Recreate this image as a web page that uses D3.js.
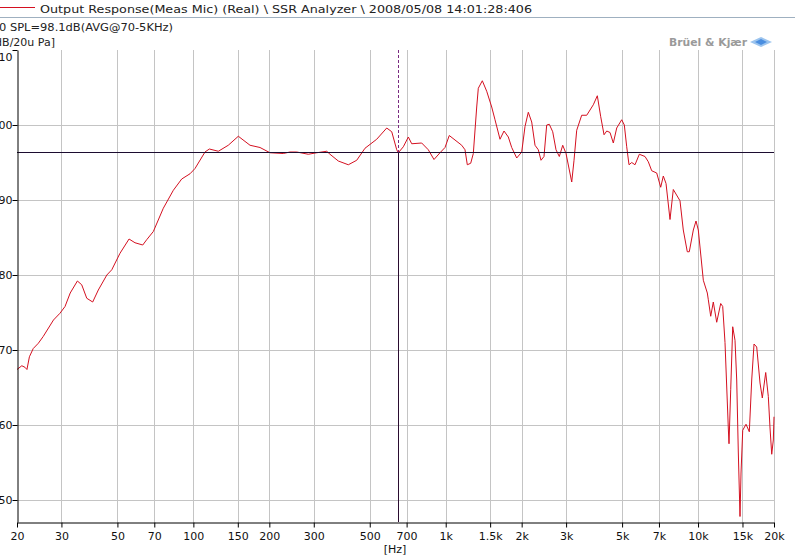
<!DOCTYPE html>
<html><head><meta charset="utf-8">
<script src="https://cdn.jsdelivr.net/npm/d3@7"></script>
<style>
html,body{margin:0;padding:0;background:#fff;overflow:hidden;}
svg{display:block;}
text{font-family:"DejaVu Sans",Verdana,sans-serif;}
</style></head>
<body>
<svg id="chart" width="795" height="560"></svg>
<script>
// ---- data ----
const freqs = [20,20.9,21.5,21.9,22.4,23.2,24.3,25.4,27.9,29.6,31.0,32.5,34.7,36.1,37.8,39.9,42.0,45.4,47.5,51.2,55.6,58.7,63.0,65.3,69.4,76.0,83.3,89.9,97.0,101.5,111.2,115.7,125.6,137.5,150.7,167.7,183.7,201.2,227.2,241.5,256.7,285.4,308.2,337.7,347.9,375.3,411.2,444.0,478.8,532.8,583.9,611.1,639.6,649,679.3,711,733.4,803.2,853.1,898.7,949.2,993.6,1033,1088.6,1157.3,1192.6,1217.9,1256.3,1286.5,1327,1346.5,1396.6,1453.8,1521.7,1568.2,1641.4,1702.4,1770.6,1826.4,1911.7,2000.7,2061.9,2124.9,2191.9,2258.9,2327.9,2386,2452,2513,2573,2655,2736,2820,2909,2998,3158,3225,3305,3459,3621,3732,3846,3989,4115,4241,4347,4479,4616,4761,4983,5103,5216,5326,5460,5627,5852,6164,6352,6552,6858,7113,7284,7466,7743,7979,8482,8741,9066,9233,9578,9816,10024,10493,10883,10983,11226,11495,11858,12298,12525,12790,13181,13265,13473,13721,14012,14231,14441,14667,14802,15034,15493,15967,16320,16666,17081,17604,17977,18544,18989,19286,19588,19876,20000];
const spl = [67.4,67.9,67.7,67.4,69.1,70.2,70.9,71.8,74.0,74.9,75.8,77.6,79.2,78.7,76.9,76.4,78.0,80.0,80.7,82.9,84.8,84.3,84.0,84.7,85.8,88.9,91.3,92.8,93.5,94.2,96.4,96.8,96.5,97.3,98.5,97.3,97.0,96.3,96.2,96.4,96.4,96.1,96.3,96.5,96.1,95.2,94.7,95.3,96.9,98.1,99.6,99.1,96.7,96.3,97.1,98.4,97.5,97.6,96.7,95.4,96.3,97.0,98.6,98.0,97.3,96.7,94.7,94.9,96.2,102.4,104.9,105.9,104.5,102.4,100.7,98.1,99.2,98.4,97.0,95.6,96.4,99.8,101.7,100.4,97.3,96.7,95.3,95.8,100.0,100.1,99.1,96.7,95.8,97.3,96.2,92.4,95.3,99.3,101.3,101.3,102.0,102.7,103.9,101.1,98.7,99.2,99.0,97.6,99.6,100.7,100.0,97.1,94.7,95.0,94.7,96.1,95.8,95.1,93.9,93.6,91.7,93.2,92.2,87.4,91.4,89.9,86.0,83.1,83.1,86.0,87.2,86.0,79.3,77.6,76.7,74.5,76.4,73.7,76.2,75.8,71.0,59.6,57.5,64.7,73.1,71.3,66.0,56.4,47.8,53.6,59.3,60.1,59.1,66.0,70.8,70.4,65.6,63.6,67.0,63.8,59.6,56.1,58.0,61.1];
const xTicks = [20,30,50,70,100,150,200,300,500,700,1000,1500,2000,3000,5000,7000,10000,15000,20000];
const xTickLabels = ["20","30","50","70","100","150","200","300","500","700","1k","1.5k","2k","3k","5k","7k","10k","15k","20k"];
const yTicks = [110,100,90,80,70,60,50];
const yTickLabels = ["110","100","90","80","70","60","50"];
const refLevel = 96.4;
const cursorFreq = 649;
const headerTitle = "Output Response(Meas Mic) (Real) \\ SSR Analyzer \\ 2008/05/08 14:01:28:406";
const headerInfo = "0 SPL=98.1dB(AVG@70-5KHz)";
const yUnit = "[dB/20u Pa]";
const xUnit = "[Hz]";
const brand = "Brüel & Kjær";

// ---- layout ----
const L = 17, R = 774, T = 50, B = 522;
const svg = d3.select("#chart");
const x = d3.scaleLog().domain([20,20000]).range([L,R]);
const y = d3.scaleLinear().domain([110 - (B-T)/7.5, 110]).range([B,T]);

// header
svg.append("line").attr("x1",0).attr("x2",35).attr("y1",7.5).attr("y2",7.5)
  .attr("stroke","#d41020").attr("stroke-width",1);
svg.append("text").attr("x",40).attr("y",13).attr("font-size",11).attr("fill","#222")
  .attr("textLength",492).attr("lengthAdjust","spacingAndGlyphs").text(headerTitle);
svg.append("line").attr("x1",0).attr("x2",795).attr("y1",17.5).attr("y2",17.5)
  .attr("stroke","#9fb0c0").attr("stroke-width",1);
svg.append("text").attr("x",-1).attr("y",31).attr("font-size",11).attr("fill","#222")
  .attr("textLength",174).attr("lengthAdjust","spacingAndGlyphs").text(headerInfo);
svg.append("text").attr("x",55).attr("y",46).attr("font-size",11).attr("fill","#222")
  .attr("text-anchor","end").text(yUnit);

// brand
svg.append("text").attr("x",669).attr("y",46).attr("font-size",11).attr("font-weight","bold")
  .attr("fill","#9a9a9a").attr("textLength",78).attr("lengthAdjust","spacingAndGlyphs").text(brand);
const logo = svg.append("g").attr("transform","translate(761,42)");
logo.append("path").attr("d","M-11,0 L0,-5 L11,0 L0,5 Z").attr("fill","#9cc4ee");
logo.append("path").attr("d","M-6,0 L0,-3 L6,0 L0,3 Z").attr("fill","#4a8ee0");

// grid
svg.append("g").selectAll("line").data(xTicks.slice(1)).join("line")
  .attr("x1",d=>Math.round(x(d))+0.5).attr("x2",d=>Math.round(x(d))+0.5)
  .attr("y1",T).attr("y2",B).attr("stroke","#c4c4c4").attr("stroke-width",1);
svg.append("g").selectAll("line").data(yTicks.slice(1)).join("line")
  .attr("x1",L).attr("x2",R+0.5).attr("y1",d=>Math.round(y(d))+0.5).attr("y2",d=>Math.round(y(d))+0.5)
  .attr("stroke","#c4c4c4").attr("stroke-width",1);

// curve
const line = d3.line().x((d,i)=>x(freqs[i])).y(d=>y(d));
svg.append("path").datum(spl).attr("d",line).attr("fill","none")
  .attr("stroke","#d41020").attr("stroke-width",1);

// reference line + cursor
const yr = Math.round(y(refLevel))+0.5;
const xc = Math.round(x(cursorFreq))+0.5;
svg.append("line").attr("x1",L).attr("x2",R).attr("y1",yr).attr("y2",yr)
  .attr("stroke","#1c0c30").attr("stroke-width",1);
svg.append("line").attr("x1",xc).attr("x2",xc).attr("y1",T).attr("y2",yr)
  .attr("stroke","#7a2a80").attr("stroke-width",1).attr("stroke-dasharray","3,2");
svg.append("line").attr("x1",xc).attr("x2",xc).attr("y1",yr).attr("y2",B)
  .attr("stroke","#2a0c30").attr("stroke-width",1);

// axes
const xAxis = d3.axisBottom(x).tickValues(xTicks).tickFormat((d,i)=>xTickLabels[i]).tickSize(5).tickSizeOuter(0);
const gx = svg.append("g").attr("transform",`translate(0,${B+0.5})`).call(xAxis);
gx.select(".domain").attr("stroke","#000");
gx.selectAll(".tick line").attr("stroke","#000");
gx.selectAll(".tick text").attr("font-size",11).attr("fill","#111").attr("y",10).attr("dy","0.71em")
  .attr("font-family","DejaVu Sans, sans-serif");

const yAxis = d3.axisLeft(y).tickValues(yTicks).tickFormat((d,i)=>yTickLabels[i]).tickSize(5).tickSizeOuter(0);
const gy = svg.append("g").attr("transform",`translate(${L+0.5},0)`).call(yAxis);
gy.select(".domain").attr("stroke","#000");
gy.selectAll(".tick line").attr("stroke","#000");
gy.selectAll(".tick text").attr("font-size",11).attr("fill","#111").attr("x",-5)
  .attr("font-family","DejaVu Sans, sans-serif")
  .attr("dy",d=>d===110?"0.95em":"0.35em");

svg.append("text").attr("x",395).attr("y",553).attr("font-size",11).attr("fill","#111")
  .attr("text-anchor","middle").text(xUnit);
</script>
</body></html>
